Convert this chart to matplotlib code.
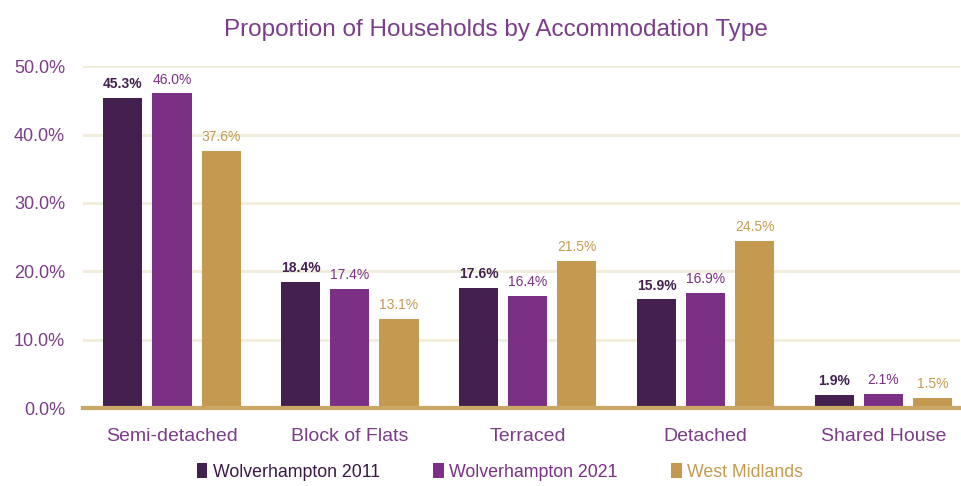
import numpy as np
import matplotlib.pyplot as plt

categories = ['Semi-detached', 'Block of Flats', 'Terraced', 'Detached', 'Shared House']
wolv_2011 = [45.3, 18.4, 17.6, 15.9, 1.9]
wolv_2021 = [46.0, 17.4, 16.4, 16.9, 2.1]
west_mid = [37.6, 13.1, 21.5, 24.5, 1.5]
series_names = ['Wolverhampton 2011', 'Wolverhampton 2021', 'West Midlands']
yticks = [0, 10, 20, 30, 40, 50]

colors = ['#44204f', '#7b3085', '#c49a50']
title_col = '#7b3d8a'

plt.rcParams['font.family'] = ['Liberation Sans', 'DejaVu Sans']

fig = plt.figure(figsize=(9.61, 4.86), dpi=100)
ax = fig.add_axes([0.0864, 0.160, 0.9126, 0.704])

x = np.arange(len(categories))
w = 0.22
step = 0.276
for i, (vals, c, name) in enumerate(zip([wolv_2011, wolv_2021, west_mid], colors, series_names)):
    pos = x + (i - 1) * step
    ax.bar(pos, vals, width=w, color=c, label=name, zorder=3)
    for px, v in zip(pos, vals):
        ax.text(px, v + 1.0, f'{v:.1f}%', ha='center', va='bottom',
                fontsize=10, color=c, fontweight='bold' if i == 0 else 'normal')

ax.set_ylim(0, 50)
ax.set_xlim(-0.5, 4.43)
ax.set_yticks(yticks)
ax.set_yticklabels([f'{t:.1f}%' for t in yticks], fontsize=13, color=title_col)
ax.set_xticks(x)
ax.set_xticklabels(categories, fontsize=14, color=title_col)
ax.tick_params(length=0, axis='y', pad=13)
ax.tick_params(length=0, axis='x', pad=14)
ax.grid(axis='y', color='#f1ecd9', linewidth=2, zorder=0)
for s in ['top', 'right', 'left']:
    ax.spines[s].set_visible(False)
ax.spines['bottom'].set_color('#c9a764')
ax.spines['bottom'].set_linewidth(3)
ax.spines['bottom'].set_zorder(4)

fig.text(0.516, 0.938, 'Proportion of Households by Accommodation Type', fontsize=17.5,
         color=title_col, ha='center', va='center')

leg = fig.legend(loc='lower center', bbox_to_anchor=(0.52, -0.022), ncol=3,
                 frameon=False, fontsize=12.8, handlelength=0.6, handleheight=0.9,
                 handletextpad=0.3, columnspacing=3.0)
for t, c in zip(leg.get_texts(), ['#3a1a45', '#7b3085', '#c49a50']):
    t.set_color(c)

fig.savefig('out.png', dpi=100)
